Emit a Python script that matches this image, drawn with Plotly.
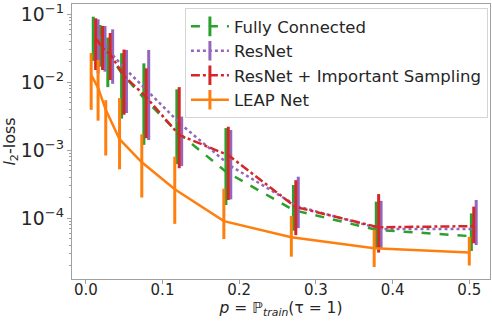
import numpy as np
import plotly.graph_objects as go

# base training probabilities (LEAP Net positions); other series slightly shifted
p = [0.007, 0.016, 0.026, 0.044, 0.073, 0.116, 0.180, 0.268, 0.376, 0.500]
shift_fc, shift_res, shift_resis = 0.0027, 0.009, 0.0058

fc_val = [0.0415, 0.0338, 0.0267, 0.0135, 0.0058, 0.00186, 4.8e-4, 1.31e-4, 6.7e-5, 5.4e-5]
fc_hi = [0.0913, 0.0689, 0.045, 0.0265, 0.0188, 0.0078, 0.0021, 3.06e-4, 1.74e-4, 1.17e-4]
fc_lo = [0.0204, 0.0168, 0.0084, 0.0029, 0.00119, 6.2e-4, 1.55e-4, 6.5e-5, 3.58e-5, 3.27e-5]

res_val = [0.0470, 0.035, 0.0249, 0.015, 0.0071, 0.00233, 5.8e-4, 1.47e-4, 6.9e-5, 6.9e-5]
res_hi = [0.0836, 0.0666, 0.0595, 0.0296, 0.0296, 0.0031, 0.00197, 4.05e-4, 1.79e-4, 1.84e-4]
res_lo = [0.0134, 0.0142, 0.0094, 0.0035, 0.0014, 5.8e-4, 1.88e-4, 7.1e-5, 3.58e-5, 4.0e-5]

resis_val = [0.0444, 0.0316, 0.0258, 0.0123, 0.0060, 0.00166, 8.4e-4, 1.45e-4, 7.3e-5, 7.6e-5]
resis_hi = [0.0865, 0.0666, 0.0526, 0.030, 0.0159, 0.0084, 0.0022, 3.6e-4, 2.25e-4, 1.47e-4]
resis_lo = [0.015, 0.015, 0.0107, 0.0033, 0.00149, 5.4e-4, 1.84e-4, 5.6e-5, 3.1e-5, 4.25e-5]

leap_val = [0.0127, 0.0082, 0.0039, 0.00144, 6.6e-4, 2.64e-4, 9.0e-5, 5.2e-5, 3.6e-5, 3.1e-5]
leap_hi = [0.0267, 0.0211, 0.0054, 0.0058, 0.0017, 8.0e-4, 2.7e-4, 1.07e-4, 6.7e-5, 5.3e-5]
leap_lo = [0.0039, 0.0027, 8.3e-4, 5.2e-4, 2.0e-4, 8.2e-5, 4.9e-5, 2.7e-5, 1.9e-5, 2.0e-5]

series = [
    ("Fully Connected", shift_fc, fc_val, fc_hi, fc_lo, "#2ca02c", "dash"),
    ("ResNet", shift_res, res_val, res_hi, res_lo, "#9467bd", "dot"),
    ("ResNet + Important Sampling", shift_resis, resis_val, resis_hi, resis_lo, "#d62728", "dashdot"),
    ("LEAP Net", 0.0, leap_val, leap_hi, leap_lo, "#ff7f0e", "solid"),
]

fig = go.Figure()
for name, sh, v, hi, lo, col, dash in series:
    v = np.array(v); hi = np.array(hi); lo = np.array(lo)
    fig.add_trace(go.Scatter(
        x=np.array(p) + sh, y=v, name=name, mode="lines", showlegend=False,
        line=dict(color=col, width=2.5, dash=dash),
        error_y=dict(type="data", symmetric=False, array=hi - v, arrayminus=v - lo,
                     color=col, thickness=3, width=0),
    ))
# legend entries showing line + error-bar tick
for name, sh, v, hi, lo, col, dash in series:
    fig.add_trace(go.Scatter(
        x=[None], y=[None], name=name, mode="lines+markers", showlegend=True,
        line=dict(color=col, width=2.5, dash=dash),
        marker=dict(symbol="line-ns", size=14, line=dict(color=col, width=3)),
    ))

axis_common = dict(showline=True, mirror=True, linecolor="#a0a0a0", linewidth=1,
                   ticks="outside", ticklen=4, tickcolor="#a0a0a0",
                   showgrid=False, zeroline=False, ticklabeloverflow="allow",
                   tickfont=dict(family="DejaVu Sans", size=15, color="#262626"))

fig.update_layout(
    width=492, height=322,
    margin=dict(l=72, r=2, t=4, b=43),
    paper_bgcolor="white", plot_bgcolor="white",
    font=dict(family="DejaVu Sans", size=16, color="#262626"),
    xaxis=dict(range=[-0.018, 0.527], tickvals=[0.0, 0.1, 0.2, 0.3, 0.4, 0.5],
               ticktext=["0.0", "0.1", "0.2", "0.3", "0.4", "0.5"],
               ticklabelstandoff=-7,
               title=dict(text="<i>p</i> = ℙ<sub><i>train</i></sub>(τ = 1)", standoff=0,
                          font=dict(size=15.5)),
               **axis_common),
    yaxis=dict(type="log", range=[-4.897, -0.853], dtick=1, exponentformat="power",
               title=dict(text="<i>l</i><sub>2</sub>-loss", standoff=4, font=dict(size=16)),
               minor=dict(ticks="outside", ticklen=2, tickcolor="#a0a0a0", dtick="D1"),
               **axis_common),
    legend=dict(x=0.995, y=0.985, xanchor="right", yanchor="top",
                bgcolor="rgba(255,255,255,0.8)", bordercolor="#d5d5d5", borderwidth=1,
                font=dict(family="DejaVu Sans", size=16.5, color="#262626"),
                itemwidth=38, tracegroupgap=0),
    showlegend=True,
)

fig.write_html("out.html")
